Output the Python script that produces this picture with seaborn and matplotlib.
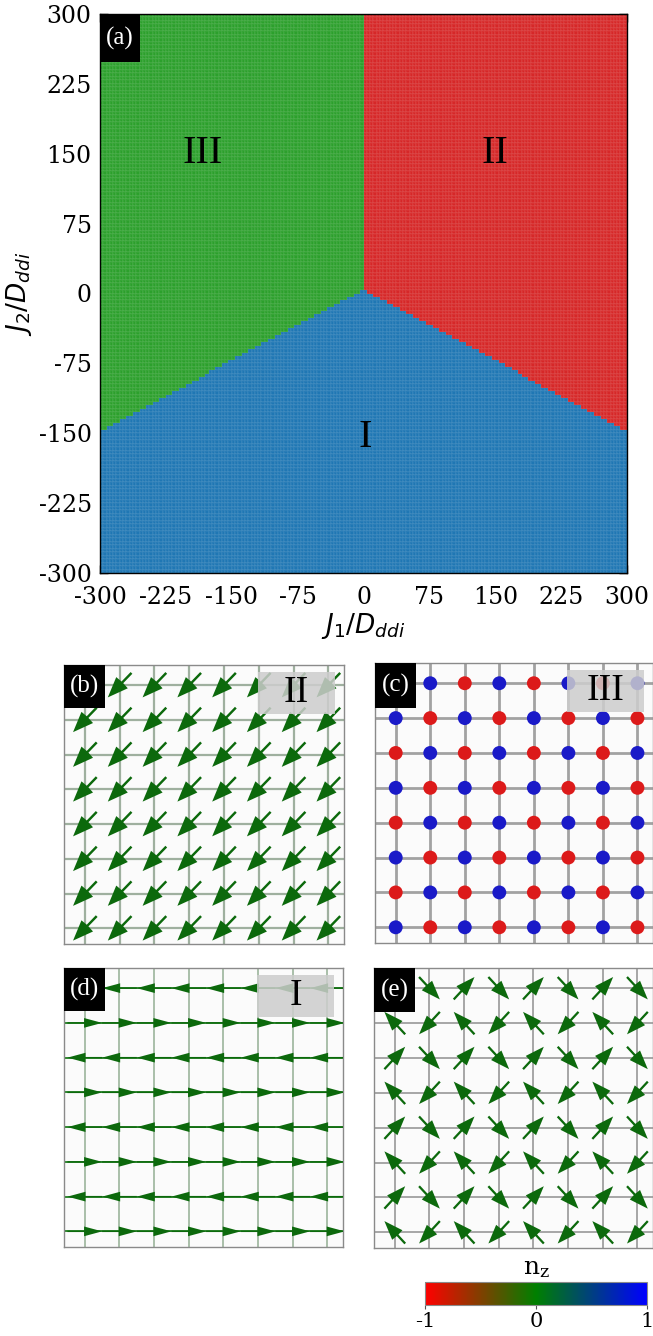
import matplotlib
matplotlib.use("Agg")
import matplotlib.pyplot as plt
import numpy as np
import pandas as pd
import seaborn as sns
from matplotlib.cm import ScalarMappable
from matplotlib.colors import LinearSegmentedColormap, ListedColormap, Normalize
from matplotlib.patches import Rectangle

# ---- panel (a): phase diagram, boundaries ----
J_MIN, J_MAX = -300, 300
N_CELLS = 160
tick_vals = [-300, -225, -150, -75, 0, 75, 150, 225, 300]
# below this line -> phase I; above it phase III (J1 < 0) or II (J1 > 0)
boundary_j1 = [-300, 0, 300]
boundary_j2 = [-148, 4, -148]
split_j1 = 0
phase_names = ["I", "II", "III"]
phase_colors = ["#1f77b4", "#d62728", "#2ca02c"]
phase_label_j1 = [2, 150, -183]
phase_label_j2 = [-155, 150, 150]

# ---- panels (b)-(e): 8x8 spin snapshots, rows listed from the top ----
phase_II_angle = -134.0  # (b) uniform in-plane spin direction, degrees

# (c) phase III: out-of-plane n_z (+1 blue, -1 red)
c_nz = [
    [-1, 1, -1, 1, -1, 1, -1, 1],
    [1, -1, 1, -1, 1, -1, 1, -1],
    [-1, 1, -1, 1, -1, 1, -1, 1],
    [1, -1, 1, -1, 1, -1, 1, -1],
    [-1, 1, -1, 1, -1, 1, -1, 1],
    [1, -1, 1, -1, 1, -1, 1, -1],
    [-1, 1, -1, 1, -1, 1, -1, 1],
    [1, -1, 1, -1, 1, -1, 1, -1],
]

# (d) phase I: stripes of left / right spins, degrees
d_angle = [
    [180] * 8,
    [0] * 8,
    [180] * 8,
    [0] * 8,
    [180] * 8,
    [0] * 8,
    [180] * 8,
    [0] * 8,
]

# (e) spin directions, degrees
e_angle = [
    [47, -47, 47, -47, 47, -47, 47, -47],
    [133, -133, 133, -133, 133, -133, 133, -133],
    [47, -47, 47, -47, 47, -47, 47, -47],
    [133, -133, 133, -133, 133, -133, 133, -133],
    [47, -47, 47, -47, 47, -47, 47, -47],
    [133, -133, 133, -133, 133, -133, 133, -133],
    [47, -47, 47, -47, 47, -47, 47, -47],
    [133, -133, 133, -133, 133, -133, 133, -133],
]

nz_colors = ["#ff0000", "#008000", "#0000ff"]
cbar_ticks = [-1, 0, 1]

ARROW = "#0c690c"
W, H = 653, 1336

sns.set_style("white")
plt.rcParams.update({
    "font.family": "DejaVu Serif",
    "mathtext.fontset": "dejavusans",
    "axes.unicode_minus": False,
    "text.color": "black",
    "axes.labelcolor": "black",
    "xtick.color": "black",
    "ytick.color": "black",
})

fig = plt.figure(figsize=(W / 100, H / 100), dpi=100)


def add_axes_px(left, top, right, bottom):
    return fig.add_axes([left / W, 1 - bottom / H, (right - left) / W, (bottom - top) / H])


def tag_box(ax, text, w, h):
    ax.add_patch(Rectangle((0, 1 - h), w, h, transform=ax.transAxes,
                           facecolor="black", edgecolor="none", zorder=10))
    ax.text(w / 2, 1 - h / 2, text, transform=ax.transAxes, color="white",
            fontsize=18, family="Liberation Serif", ha="center", va="center", zorder=11)


def phase_box(ax, text):
    ax.add_patch(Rectangle((0.692, 0.826), 0.275, 0.148, transform=ax.transAxes,
                           facecolor="#cdcdcd", edgecolor="none", alpha=0.85, zorder=8))
    ax.text(0.83, 0.9, text, transform=ax.transAxes, fontsize=27,
            family="Liberation Serif", ha="center", va="center", zorder=9)


# ---------------- (a) ----------------
ax = add_axes_px(100, 14, 627, 573)
cell = (J_MAX - J_MIN) / N_CELLS
edges = np.linspace(J_MIN, J_MAX, N_CELLS + 1)
centers = (edges[:-1] + edges[1:]) / 2
J1, J2 = np.meshgrid(centers, centers[::-1])
lower = np.interp(J1, boundary_j1, boundary_j2)
phase = np.where(J2 < lower, 0, np.where(J1 < split_j1, 2, 1))
df = pd.DataFrame(phase, index=centers[::-1], columns=centers)
sns.heatmap(df, ax=ax, cmap=ListedColormap(phase_colors), vmin=-0.5, vmax=2.5,
            cbar=False, xticklabels=False, yticklabels=False,
            linewidths=0.1, linecolor=(1, 1, 1, 0.05))


def to_x(v):
    return (np.asarray(v, float) - J_MIN) / cell


def to_y(v):
    return (J_MAX - np.asarray(v, float)) / cell


minor_vals = [(a + b) / 2 for a, b in zip(tick_vals[:-1], tick_vals[1:])]
ax.set_xticks(to_x(tick_vals))
ax.set_xticklabels([str(v) for v in tick_vals], rotation=0)
ax.set_yticks(to_y(tick_vals))
ax.set_yticklabels([str(v) for v in tick_vals], rotation=0)
ax.set_xticks(to_x(minor_vals), minor=True)
ax.set_yticks(to_y(minor_vals), minor=True)
ax.tick_params(which="both", direction="in", top=True, right=True,
               bottom=True, left=True, color="black", width=1)
ax.tick_params(which="major", length=6, labelsize=17)
ax.tick_params(which="minor", length=3)
ax.tick_params(axis="x", pad=9)
ax.tick_params(axis="y", pad=6)
for s in ax.spines.values():
    s.set_visible(True)
    s.set_color("black")
    s.set_linewidth(1)
ax.set_xlabel(r"$J_1/D_{ddi}$", fontsize=19, labelpad=2)
ax.set_ylabel(r"$J_2/D_{ddi}$", fontsize=19, labelpad=3)
for name, x, y in zip(phase_names, phase_label_j1, phase_label_j2):
    ax.text(to_x(x), to_y(y), name, fontsize=29, family="Liberation Serif",
            ha="center", va="center", color="black")
tag_box(ax, "(a)", 40 / 527, 48 / 559)


# ---------------- lattice panels ----------------
def lattice_axes(box, grid_color, grid_lw, h_color=None, v_color=None):
    a = add_axes_px(*box)
    a.set_facecolor("#fbfbfb")
    a.set_xlim(-0.6, 7.45)
    a.set_ylim(-0.45, 7.58)
    a.set_xticks(range(8))
    a.set_yticks(range(8))
    a.xaxis.grid(True, color=v_color or grid_color, lw=grid_lw)
    a.yaxis.grid(True, color=h_color or grid_color, lw=grid_lw)
    a.set_axisbelow(True)
    a.tick_params(length=0, labelbottom=False, labelleft=False)
    for s in a.spines.values():
        s.set_visible(True)
        s.set_color("#8a8a8a")
        s.set_linewidth(1)
    return a


def draw_spins(a, angles, length, width, headwidth, headlength, headaxislength):
    ang = np.deg2rad(np.asarray(angles, float))
    rows, cols = ang.shape
    x, y = np.meshgrid(np.arange(cols), np.arange(rows)[::-1])
    a.quiver(x, y, length * np.cos(ang), length * np.sin(ang), angles="xy",
             scale_units="xy", scale=1, units="xy", pivot="mid", color=ARROW,
             width=width, headwidth=headwidth, headlength=headlength,
             headaxislength=headaxislength, zorder=3)


# (b) phase II
axb = lattice_axes((64, 665, 344, 944), "#9fb09f", 1.6)
draw_spins(axb, np.full((8, 8), phase_II_angle), 0.98, 0.07, 6.6, 8.4, 8.6)
tag_box(axb, "(b)", 0.146, 0.154)
phase_box(axb, "II")

# (c) phase III
axc = lattice_axes((375, 663, 653, 943), "#a2a2a2", 2.0)
nz = np.asarray(c_nz)
rr, cc = np.meshgrid(np.arange(8), np.arange(8), indexing="ij")
dots = pd.DataFrame({"x": cc.ravel(), "y": 7 - rr.ravel(), "nz": nz.ravel()})
sns.scatterplot(data=dots, x="x", y="y", hue="nz", palette={-1: "#dc1a1a", 1: "#1a1ac8"},
                s=100, edgecolor="none", legend=False, ax=axc, zorder=3)
axc.set_xlabel("")
axc.set_ylabel("")
tag_box(axc, "(c)", 0.147, 0.16)
phase_box(axc, "III")

# (d) phase I
axd = lattice_axes((64, 968, 343, 1247), "#a9bfa9", 1.4, h_color="#2f862f")
draw_spins(axd, d_angle, 1.0, 0.04, 7.0, 13.0, 13.0)
tag_box(axd, "(d)", 0.147, 0.155)
phase_box(axd, "I")

# (e)
axe = lattice_axes((374, 968, 653, 1248), "#a6a6a6", 1.4)
draw_spins(axe, e_angle, 0.88, 0.065, 6.2, 8.4, 8.6)
tag_box(axe, "(e)", 0.147, 0.157)

# ---------------- colorbar ----------------
cax = add_axes_px(425, 1282, 647, 1305)
cmap = LinearSegmentedColormap.from_list("nz", nz_colors)
cb = fig.colorbar(ScalarMappable(norm=Normalize(-1, 1), cmap=cmap), cax=cax,
                  orientation="horizontal", ticks=cbar_ticks)
cb.outline.set_edgecolor("#8a8a8a")
cb.ax.tick_params(labelsize=15, length=3, color="#555555", pad=2)
cb.ax.set_xticklabels([str(t) for t in cbar_ticks])
cb.ax.set_title(r"$\mathregular{n_z}$", fontsize=18, pad=6)

fig.savefig("out.png", dpi=100)
